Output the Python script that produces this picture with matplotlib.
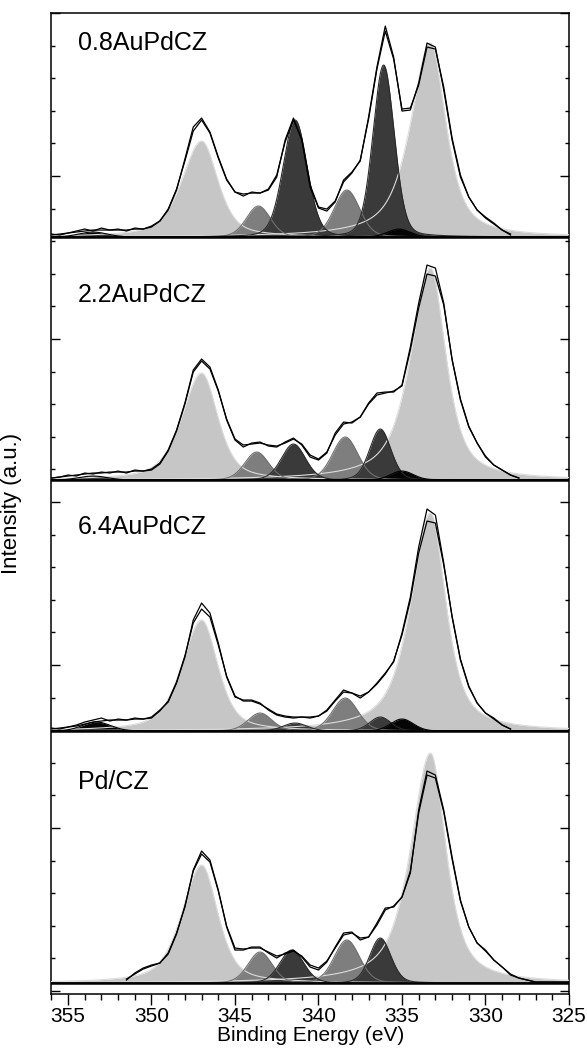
import numpy as np
import matplotlib
matplotlib.use("Agg")
import matplotlib.pyplot as plt
from matplotlib.ticker import MultipleLocator

plt.rcParams['font.family'] = ['Liberation Sans', 'DejaVu Sans']

# binding energy grid of the spectra (eV), 0.5 eV steps
energy = np.arange(356.0, 324.99, -0.5)

labels = ['0.8AuPdCZ', '2.2AuPdCZ', '6.4AuPdCZ', 'Pd/CZ']
baselines = [754, 511, 260, 8]   # vertical offset of each spectrum (a.u.)

N = None
measured = [
    [3, 2, 4, 6, 8, 6, 9, 7, 8, 6, 9, 8, 11, 16, 27, 47, 78, 110, 119, 105, 80, 58, 45, 41, 45, 44, 47, 60, 97,
     119, 97, 50, 29, 26, 35, 57, 65, 76, 120, 170, 211, 180, 126, 127, 154, 194, 190, 147, 97, 60, 40, 27, 20,
     14, 7, 2, N, N, N, N, N, N, N],
    [2, 3, 5, 4, 7, 6, 8, 7, 9, 7, 10, 9, 11, 17, 30, 50, 77, 110, 121, 113, 90, 60, 40, 33, 37, 38, 34, 33, 38,
     42, 35, 23, 20, 27, 47, 58, 57, 63, 77, 87, 88, 88, 95, 133, 177, 215, 212, 177, 120, 80, 53, 37, 23, 15,
     10, 5, 2, N, N, N, N, N, N],
    [3, 2, 4, 6, 9, 11, 13, 10, 12, 11, 13, 12, 14, 21, 29, 48, 74, 111, 128, 118, 88, 54, 34, 31, 31, 28, 21,
     16, 14, 13, 14, 13, 15, 21, 31, 41, 38, 33, 39, 48, 58, 69, 98, 134, 184, 222, 216, 168, 114, 71, 44, 28,
     18, 13, 6, 2, N, N, N, N, N, N, N],
    [N, N, N, N, N, N, N, N, N, 3, 10, 15, 18, 20, 30, 50, 76, 113, 132, 123, 93, 56, 33, 33, 36, 36, 30, 25,
     30, 33, 26, 16, 13, 21, 36, 50, 51, 43, 46, 60, 75, 76, 86, 110, 173, 212, 208, 173, 126, 83, 56, 40, 33,
     23, 16, 8, 5, 3, 1, 1, 1, 1, 1],
]
fitted = [
    [2, 3, 4, 5, 6, 7, 7, 7, 7, 7, 8, 8, 10, 16, 28, 48, 76, 106, 117, 104, 79, 57, 45, 43, 44, 44, 48, 62, 95,
     117, 98, 52, 30, 28, 36, 55, 64, 77, 118, 168, 206, 178, 128, 129, 152, 190, 188, 150, 99, 62, 40, 27, 19,
     13, 7, 3, N, N, N, N, N, N, N],
    [2, 3, 4, 5, 6, 7, 7, 8, 8, 8, 9, 9, 10, 16, 29, 49, 76, 108, 119, 111, 89, 61, 41, 35, 36, 37, 35, 34, 37,
     41, 36, 25, 21, 28, 45, 56, 58, 63, 76, 85, 87, 89, 94, 130, 172, 206, 204, 175, 121, 81, 54, 37, 24, 15,
     10, 5, 2, N, N, N, N, N, N],
    [2, 3, 4, 5, 7, 9, 10, 11, 11, 11, 12, 12, 13, 20, 30, 49, 75, 108, 122, 114, 86, 55, 35, 30, 30, 27, 22,
     17, 15, 14, 14, 14, 15, 20, 30, 39, 38, 35, 39, 47, 57, 70, 96, 131, 178, 210, 208, 166, 115, 72, 45, 28,
     18, 12, 6, 2, N, N, N, N, N, N, N],
    [N, N, N, N, N, N, N, N, N, 4, 9, 14, 17, 20, 29, 49, 77, 112, 129, 121, 92, 57, 35, 34, 35, 35, 31, 27,
     29, 32, 27, 18, 15, 22, 35, 48, 50, 45, 46, 58, 73, 77, 86, 112, 170, 208, 205, 171, 124, 82, 56, 40, 32,
     23, 16, 9, 5, 3, 1, 1, 1, 1, 1],
]

# fitted components: one row per spectrum, one column per component
comp_names = ['Zr 3p1/2', 'Zr 3p3/2', 'PdO 3d3/2', 'PdO 3d5/2', 'Pd 3d3/2', 'Pd 3d5/2', 'sat 1', 'sat 2']
comp_colors = ['#c6c6c6', '#c6c6c6', '#7e7e7e', '#7e7e7e', '#3a3a3a', '#3a3a3a', '#050505', '#050505']
comp_lines = ['#dcdcdc', '#dcdcdc', '#707070', '#707070', '#2a2a2a', '#2a2a2a', '#000000', '#000000']
comp_hw_left = [1.40, 1.40, 0.85, 0.90, 0.85, 0.75, 1.00, 0.80]
comp_hw_right = [1.15, 1.10, 0.85, 0.90, 0.85, 0.75, 1.00, 0.80]
comp_eta = [0.55, 0.70, 0.20, 0.20, 0.20, 0.20, 0.10, 0.10]
comp_centers = [
    [347.0, 333.3, 343.6, 338.3, 341.4, 336.1, 353.5, 335.2],
    [347.0, 333.3, 343.7, 338.4, 341.5, 336.3, 353.5, 335.0],
    [347.0, 333.3, 343.5, 338.4, 341.4, 336.3, 353.3, 335.0],
    [347.0, 333.3, 343.5, 338.3, 341.6, 336.3, 353.0, 335.0],
]
comp_heights = [
    [96, 194, 31, 47, 117, 172, 5, 8],
    [107, 212, 28, 43, 36, 51, 4, 9],
    [111, 218, 18, 33, 8, 14, 9, 12],
    [118, 230, 31, 43, 33, 45, 0, 0],
]
label_y = [948, 696, 464, 209]

fine_e = np.linspace(356, 325, 1241)


def profile(e, c, h, wl, wr, eta):
    w = np.where(e >= c, wl, wr)
    x2 = ((e - c) / w) ** 2
    return h * ((1 - eta) * np.exp(-np.log(2) * x2) + eta / (1 + x2))


fig = plt.figure(figsize=(5.87, 10.52), dpi=100)
ax = fig.add_axes([0.0874, 0.0551, 0.8819, 0.9325])

for p in range(4):
    base = baselines[p]
    curves = []
    for k in range(len(comp_names)):
        curves.append(profile(fine_e, comp_centers[p][k], comp_heights[p][k],
                              comp_hw_left[k], comp_hw_right[k], comp_eta[k]))
    for k, cv in enumerate(curves):
        if comp_heights[p][k] > 0:
            ax.fill_between(fine_e, base, base + cv, color=comp_colors[k], lw=0, zorder=2)
    for k, cv in enumerate(curves):
        if comp_heights[p][k] > 0:
            ax.plot(fine_e, base + cv, color=comp_lines[k], lw=0.8, zorder=3)
    ax.plot(energy, base + np.array(fitted[p], dtype=float), color='black', lw=0.9, zorder=4)
    ax.plot(energy, base + np.array(measured[p], dtype=float), color='black', lw=0.9, zorder=4)
    ax.axhline(base, color='black', lw=1.8, zorder=5)
    ax.text(354.4, label_y[p], labels[p], fontsize=18, ha='left', va='center')

ax.set_xlim(356, 325)
ax.set_ylim(-3, 978)
ax.xaxis.set_major_locator(MultipleLocator(5))
ax.xaxis.set_minor_locator(MultipleLocator(1))
ax.yaxis.set_major_locator(MultipleLocator(163))
ax.yaxis.set_minor_locator(MultipleLocator(32.6))
ax.set_yticklabels([])
ax.tick_params(axis='y', which='both', direction='in', left=True, right=True)
ax.tick_params(axis='y', which='major', length=6.5, width=1)
ax.tick_params(axis='y', which='minor', length=3, width=1)
ax.tick_params(axis='x', which='major', direction='out', length=8, width=1, labelsize=15, pad=1)
ax.tick_params(axis='x', which='minor', direction='out', length=4.5, width=1)
for s in ax.spines.values():
    s.set_linewidth(1.1)

ax.set_xlabel('Binding Energy (eV)', fontsize=15, labelpad=0)
ax.set_ylabel('Intensity (a.u.)', fontsize=16)
ax.yaxis.set_label_coords(-0.057, 0.5)

fig.savefig('out.png', dpi=100)
